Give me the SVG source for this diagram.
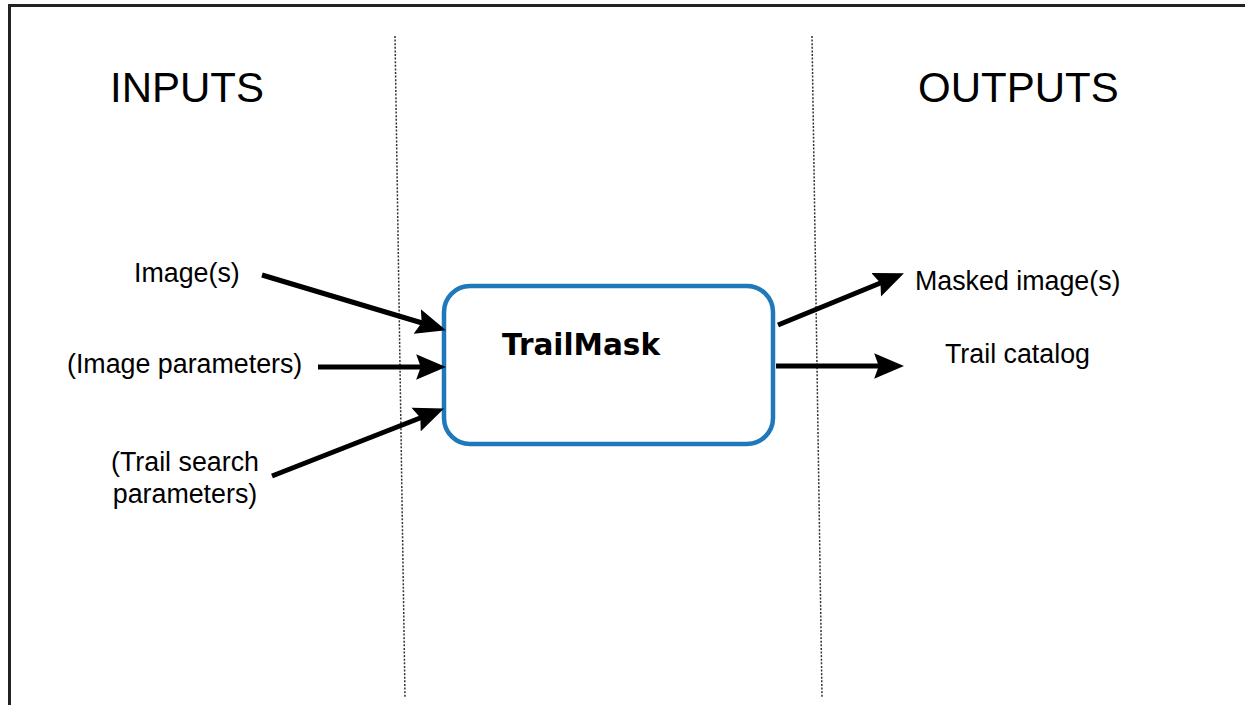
<svg xmlns="http://www.w3.org/2000/svg" width="1245" height="705" viewBox="0 0 1245 705">
<style>
.lbl{font-family:"Liberation Sans",Arial,sans-serif;fill:#000}
.hdr{font-size:42px}
.io{font-size:26.8px}
.conn{stroke:#000;stroke-width:5;fill:none;marker-end:url(#ah)}
.sep{stroke:#333;stroke-width:1.5;stroke-dasharray:2 1.6;fill:none}
</style>
<defs>
<marker id="ah" markerUnits="userSpaceOnUse" markerWidth="30" markerHeight="26" viewBox="0 0 26 22" refX="12" refY="11" orient="auto">
<path d="M0,0 L26,11 L0,22 L4,11 z" fill="#000"/>
</marker>
</defs>
<rect width="1245" height="705" fill="#fff"/>
<path d="M9.5,705 V5.5 H1245" fill="none" stroke="#222" stroke-width="3"/>
<g id="separators">
<line class="sep" x1="395" y1="36" x2="405" y2="697"/>
<line class="sep" x1="812" y1="36" x2="822" y2="697"/>
</g>
<g id="headers">
<text class="lbl hdr" x="110" y="102">INPUTS</text>
<text class="lbl hdr" x="918" y="102">OUTPUTS</text>
</g>
<g id="node-trailmask">
<rect x="444" y="286" width="329" height="158" rx="26" ry="26" fill="#fff" stroke="#1f78b9" stroke-width="4.5"/>
<text x="502" y="355" font-family="'DejaVu Sans',Verdana,sans-serif" font-weight="bold" font-size="29.5" fill="#000">TrailMask</text>
</g>
<g id="input-images"><text class="lbl io" x="134" y="282">Image(s)</text></g>
<g id="input-image-params"><text class="lbl io" x="67" y="373">(Image parameters)</text></g>
<g id="input-trail-params"><text class="lbl io" text-anchor="middle" x="185" y="471">(Trail search</text><text class="lbl io" text-anchor="middle" x="185" y="503">parameters)</text></g>
<g id="output-masked"><text class="lbl io" x="915" y="290">Masked image(s)</text></g>
<g id="output-catalog"><text class="lbl io" x="945" y="363">Trail catalog</text></g>
<g id="connectors">
<line class="conn" x1="262" y1="275" x2="430.5" y2="325.5"/>
<line class="conn" x1="318" y1="367" x2="430" y2="367"/>
<line class="conn" x1="272" y1="476" x2="429" y2="414.5"/>
<line class="conn" x1="778" y1="325" x2="889" y2="279.5"/>
<line class="conn" x1="776" y1="366" x2="888" y2="366"/>
</g>
</svg>
